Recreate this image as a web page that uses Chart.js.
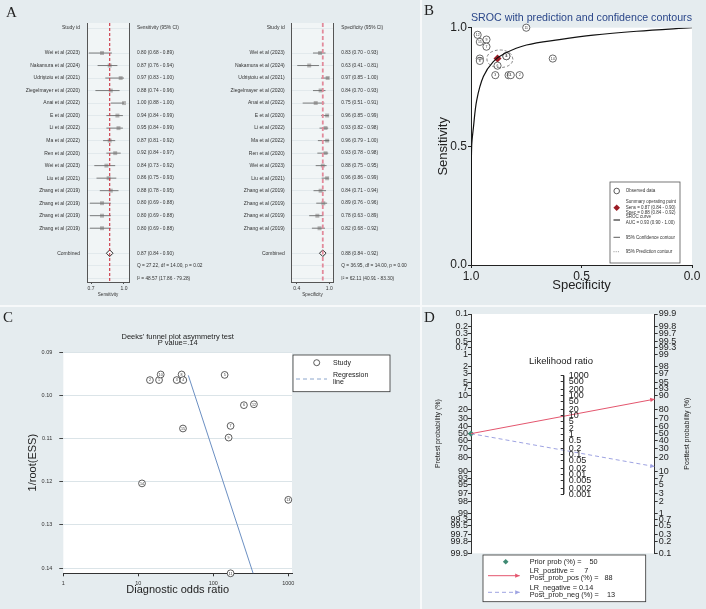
<!DOCTYPE html>
<html>
<head>
<meta charset="utf-8">
<script src="https://cdn.jsdelivr.net/npm/chart.js@4.4.1/dist/chart.umd.min.js"></script>
<style>
  html, body { margin:0; padding:0; background:#e5ecef; }
  #fig { position:relative; width:706px; height:609px; overflow:hidden; background:#e5ecef; }
  #fig canvas { position:absolute; }
  .sep { position:absolute; background:#f7f9fa; }
  .tag { position:absolute; font-family:'Liberation Serif','DejaVu Serif',serif; font-size:15px; line-height:15px; color:#222; }
</style>
</head>
<body>
<div id="fig">
  <div class="sep" style="left:0;top:305px;width:706px;height:1.5px"></div>
  <div class="sep" style="left:420px;top:0;width:1.5px;height:609px"></div>
  <canvas id="forestSens" width="420" height="305" style="left:0;top:0"></canvas>
  <canvas id="forestSpec" width="420" height="305" style="left:0;top:0"></canvas>
  <canvas id="sroc" width="285" height="305" style="left:421px;top:0"></canvas>
  <canvas id="deeks" width="420" height="303" style="left:0;top:306px"></canvas>
  <canvas id="fagan" width="285" height="303" style="left:421px;top:306px"></canvas>
  <canvas id="faganLR" width="285" height="303" style="left:421px;top:306px"></canvas>
  <div class="tag" style="left:6px;top:5px">A</div>
  <div class="tag" style="left:424px;top:3px">B</div>
  <div class="tag" style="left:3px;top:310px">C</div>
  <div class="tag" style="left:424px;top:310px">D</div>
</div>
<script>
// ---------- datos ----------
const studies = ['Wei et al (2023)', 'Nakamura et al (2024)', 'Udriştoiu et al (2021)', 'Ziegelmayer et al (2020)',
  'Anai et al (2022)', 'E et al (2020)', 'Li et al (2022)', 'Ma et al (2022)', 'Ren et al (2020)', 'Wei et al (2023)',
  'Liu et al (2021)', 'Zhang et al (2019)', 'Zhang et al (2019)', 'Zhang et al (2019)', 'Zhang et al (2019)'];
const sens   = [0.80, 0.87, 0.97, 0.88, 1.00, 0.94, 0.95, 0.87, 0.92, 0.84, 0.86, 0.88, 0.80, 0.80, 0.80];
const sensLo = [0.68, 0.76, 0.83, 0.74, 0.88, 0.84, 0.84, 0.81, 0.84, 0.73, 0.75, 0.78, 0.69, 0.69, 0.69];
const sensHi = [0.89, 0.94, 1.00, 0.96, 1.00, 0.99, 0.99, 0.92, 0.97, 0.92, 0.93, 0.95, 0.88, 0.88, 0.88];
const spec   = [0.83, 0.63, 0.97, 0.84, 0.75, 0.96, 0.93, 0.96, 0.93, 0.88, 0.96, 0.84, 0.89, 0.78, 0.82];
const specLo = [0.70, 0.41, 0.85, 0.70, 0.51, 0.85, 0.82, 0.79, 0.78, 0.75, 0.86, 0.71, 0.76, 0.63, 0.68];
const specHi = [0.93, 0.81, 1.00, 0.93, 0.91, 0.99, 0.98, 1.00, 0.98, 0.95, 0.99, 0.94, 0.96, 0.89, 0.92];
const sensPooled = [0.87, 0.84, 0.90];
const specPooled = [0.88, 0.84, 0.92];
const sensStats = ['Q = 27.22, df = 14.00, p = 0.02', 'I\u00b2 = 48.57 (17.86 - 79.28)'];
const specStats = ['Q = 36.95, df = 14.00, p = 0.00', 'I\u00b2 = 62.11 (40.91 - 83.30)'];

// SROC (B)
const srocLabels = [10, 14, 12, 5, 11, 15, 9, 13, 7, 6, 8, 4, 3, 2, 1];
const srocSpec = [1.0, 0.999, 0.997, 0.989, 0.974, 0.944, 0.899, 0.846, 0.749, 0.60, 0.447, 0.25, 0.0];
const srocSens = [0.0, 0.30, 0.50, 0.58, 0.695, 0.794, 0.857, 0.892, 0.927, 0.95, 0.969, 0.985, 1.0];
const ellSpec = [0.810, 0.818, 0.840, 0.868, 0.897, 0.920, 0.928, 0.921, 0.899, 0.870, 0.841, 0.818, 0.810];
const ellSens = [0.866, 0.887, 0.901, 0.906, 0.902, 0.889, 0.870, 0.850, 0.836, 0.832, 0.836, 0.849, 0.866];
const aucVals = [0.93, 0.90, 1.00];

// Deeks (C)
const dor        = [14.3, 18.9, 19.9, 32.5, 37.8, 39.8, 141.6, 256, 348, 170, 160, 39.4, 11.2, 1000, 170];
const invRootEss = [0.0965, 0.0965, 0.0952, 0.0965, 0.0952, 0.0965, 0.0953, 0.1023, 0.1021, 0.1071, 0.1098, 0.1077, 0.1204, 0.1242, 0.1412];
const deeksLabels = [2, 1, 10, 3, 8, 4, 5, 6, 12, 7, 9, 15, 14, 13, 11];
const regDor = [46.4, 341];
const regY   = [0.0954, 0.1413];
const deeksTicksX = [1, 10, 100, 1000];
const deeksTicksY = [0.09, 0.10, 0.11, 0.12, 0.13, 0.14];

// Fagan (D)
const preTicks  = [0.1, 0.2, 0.3, 0.5, 0.7, 1, 2, 3, 5, 7, 10, 20, 30, 40, 50, 60, 70, 80, 90, 93, 95, 97, 98, 99, 99.3, 99.5, 99.7, 99.8, 99.9];
const postTicks = [99.9, 99.8, 99.7, 99.5, 99.3, 99, 98, 97, 95, 93, 90, 80, 70, 60, 50, 40, 30, 20, 10, 7, 5, 3, 2, 1, 0.7, 0.5, 0.3, 0.2, 0.1];
const lrTicks   = [1000, 500, 200, 100, 50, 20, 10, 5, 2, 1, 0.5, 0.2, 0.1, 0.05, 0.02, 0.01, 0.005, 0.002, 0.001];
const priorProb = 50;
const lrPos = 7, postPos = 88;
const lrNeg = 0.14, postNeg = 13;

// ---------- comunes ----------
const FONT = "'Liberation Sans', Arial, Helvetica, sans-serif";
Chart.defaults.font.family = FONT;
Chart.defaults.color = '#222';
const ROW_MIN = -2.4, ROW_MAX = 18.3;
const logit = p => Math.log(p / (100 - p));
const U_LIM = 6.907;

const areaBg = { id: 'areaBg', beforeDraw(chart, args, o) {
  if (!o.color) return;
  const a = chart.chartArea, c = chart.ctx;
  c.save(); c.fillStyle = o.color; c.fillRect(a.left, a.top, a.right - a.left, a.bottom - a.top); c.restore();
}};

const numeros = { id: 'numeros', afterDatasetsDraw(chart) {
  const c = chart.ctx;
  chart.data.datasets.forEach((ds, di) => {
    if (!ds.nums) return;
    const meta = chart.getDatasetMeta(di);
    c.save(); c.font = ds.numFont; c.fillStyle = '#333'; c.textAlign = 'center'; c.textBaseline = 'middle';
    meta.data.forEach((p, i) => c.fillText(String(ds.nums[i]), p.x, p.y + 0.3));
    c.restore();
  });
}};

function punta(c, x, y, ang, len) {
  c.beginPath();
  c.moveTo(x - len * Math.cos(ang - 0.45), y - len * Math.sin(ang - 0.45));
  c.lineTo(x, y);
  c.lineTo(x - len * Math.cos(ang + 0.45), y - len * Math.sin(ang + 0.45));
  c.closePath(); c.fill();
}

const flechas = { id: 'flechas', afterDatasetsDraw(chart) {
  const c = chart.ctx;
  chart.data.datasets.forEach((ds, di) => {
    if (!ds.arrow) return;
    const pts = chart.getDatasetMeta(di).data;
    const a = pts[pts.length - 2], b = pts[pts.length - 1];
    c.save(); c.fillStyle = ds.borderColor;
    punta(c, b.x, b.y, Math.atan2(b.y - a.y, b.x - a.x), 5);
    c.restore();
  });
}};

function ciTexto(e, l, h) { return e.toFixed(2) + ' (' + l.toFixed(2) + ' - ' + h.toFixed(2) + ')'; }

// the axis boxes are wide so the tick texts are not clipped
grafico_forest('forestSens', sens, sensLo, sensHi, sensPooled, sensStats, {
  head: 'Sensitivity (95% CI)', xTitle: 'Sensitivity', xMin: 0.6636, xMax: 1.0455, xTicks: [0.7, 1.0],
  axL: 87, axR: 100, padR: 191, refColor: '#cc3341', refWidth: 1.1, refDash: [3, 2]
});
grafico_forest('forestSpec', spec, specLo, specHi, specPooled, specStats, {
  head: 'Specificity (95% CI)', xTitle: 'Specificity', xMin: 0.308, xMax: 1.0736, xTicks: [0.4, 1.0],
  axL: 291.7, axR: 86.7, padR: 0, refColor: '#e28a9b', refWidth: 1.8, refDash: [4, 2.5]
});
grafico_sroc();
grafico_deeks();
grafico_fagan();
grafico_lr();

function grafico_forest(id, est, lo, hi, pooled, stats, cfg) {
  const ctx = document.getElementById(id).getContext('2d');
  const rows = est.map((v, i) => i);
  const tickRows = [-2].concat(rows, [16, 17, 18]);
  const leftText = ['Study id'].concat(studies, ['Combined', '', '']);
  const rightText = [cfg.head].concat(est.map((v, i) => ciTexto(v, lo[i], hi[i])),
    [ciTexto(pooled[0], pooled[1], pooled[2])], stats);
  const ciLines = est.map((v, i) => ({
    type: 'line', data: [{x: lo[i], y: i}, {x: hi[i], y: i}],
    borderColor: '#5e5e5e', borderWidth: 0.8, pointRadius: 0
  }));
  const pts = est.map((v, i) => ({x: v, y: i}));
  new Chart(ctx, {
    type: 'scatter',
    data: {
      datasets: [
        {type: 'line', data: [{x: pooled[0], y: ROW_MIN}, {x: pooled[0], y: ROW_MAX}],
          borderColor: cfg.refColor, borderWidth: cfg.refWidth, borderDash: cfg.refDash, pointRadius: 0},
        ...ciLines,
        {data: pts, pointStyle: 'rect', pointRadius: 2.8, backgroundColor: '#b3b3b3', borderWidth: 0},
        {data: pts, pointStyle: 'rect', pointRadius: 1.6, backgroundColor: '#111', borderWidth: 0},
        {data: [{x: pooled[0], y: 16}], pointStyle: 'rectRot', pointRadius: 3.3,
          backgroundColor: '#fff', borderColor: '#111', borderWidth: 0.9}
      ]
    },
    options: {
      animation: false, responsive: false,
      layout: {autoPadding: false, padding: {left: 0, right: cfg.padR, top: 23, bottom: 3}},
      plugins: {legend: {display: false}, tooltip: {enabled: false}, areaBg: {color: '#f1f5f6'}},
      scales: {
        x: {
          type: 'linear', min: cfg.xMin, max: cfg.xMax,
          afterBuildTicks: s => { s.ticks = cfg.xTicks.map(v => ({value: v})); },
          afterFit: s => { s.height = 20; },
          ticks: {callback: v => v.toFixed(1), font: {size: 5}, color: '#333', padding: 2, maxRotation: 0, autoSkip: false},
          grid: {drawOnChartArea: false, tickLength: 2, color: '#555'},
          border: {color: '#555', width: 1},
          title: {display: true, text: cfg.xTitle, font: {size: 4.5}, color: '#333', padding: {top: 0, bottom: 4.3}}
        },
        y: {
          type: 'linear', position: 'left', reverse: true, min: ROW_MIN, max: ROW_MAX,
          afterBuildTicks: s => { s.ticks = tickRows.map(v => ({value: v})); },
          afterFit: s => { s.width = cfg.axL; },
          ticks: {autoSkip: false, callback: (v, i) => leftText[i], font: {size: 5}, color: '#333', padding: 7},
          grid: {color: '#e2e9ec', drawTicks: false},
          border: {color: '#555', width: 1}
        },
        y2: {
          type: 'linear', position: 'right', reverse: true, min: ROW_MIN, max: ROW_MAX,
          afterBuildTicks: s => { s.ticks = tickRows.map(v => ({value: v})); },
          afterFit: s => { s.width = cfg.axR; },
          ticks: {autoSkip: false, callback: (v, i) => rightText[i], font: {size: 4.8}, color: '#333', padding: 8},
          grid: {display: false, drawTicks: false},
          border: {color: '#555', width: 1}
        }
      }
    },
    plugins: [areaBg]
  });
}

function grafico_sroc() {
  const ctx = document.getElementById('sroc').getContext('2d');
  const srocLegend = { id: 'srocLegend', afterDraw(chart) {
    const c = chart.ctx;
    c.save();
    c.fillStyle = '#fff'; c.strokeStyle = '#555'; c.lineWidth = 0.8;
    c.fillRect(189, 182, 70, 81); c.strokeRect(189, 182, 70, 81);
    c.font = '4.5px ' + FONT; c.textBaseline = 'middle'; c.textAlign = 'left';
    c.beginPath(); c.arc(195.7, 191, 2.8, 0, Math.PI * 2); c.strokeStyle = '#333'; c.stroke();
    c.fillStyle = '#333';
    c.fillText('Observed data', 204.7, 191);
    c.fillStyle = '#9b1c25';
    c.beginPath(); c.moveTo(195.7, 204.4); c.lineTo(199, 207.7); c.lineTo(195.7, 211); c.lineTo(192.4, 207.7); c.closePath(); c.fill();
    c.fillStyle = '#333';
    c.fillText('Summary operating point', 204.7, 201.7);
    c.fillText('Sens = ' + ciTexto(sensPooled[0], sensPooled[1], sensPooled[2]), 204.7, 207.3);
    c.fillText('Spec = ' + ciTexto(specPooled[0], specPooled[1], specPooled[2]), 204.7, 212.7);
    c.lineWidth = 1.2; c.strokeStyle = '#333';
    c.beginPath(); c.moveTo(192.5, 220); c.lineTo(199, 220); c.stroke();
    c.fillText('SROC curve', 204.7, 217);
    c.fillText('AUC = ' + ciTexto(aucVals[0], aucVals[1], aucVals[2]), 204.7, 222.6);
    c.lineWidth = 0.8;
    c.beginPath(); c.moveTo(192.5, 237.3); c.lineTo(199, 237.3); c.stroke();
    c.fillText('95% Confidence contour', 204.7, 237.3);
    c.setLineDash([1, 1.2]); c.strokeStyle = '#777';
    c.beginPath(); c.moveTo(192.5, 251.7); c.lineTo(199, 251.7); c.stroke();
    c.fillText('95% Prediction contour', 204.7, 251.7);
    c.restore();
  }};
  new Chart(ctx, {
    type: 'scatter',
    data: {
      datasets: [
        {type: 'line', data: srocSpec.map((x, i) => ({x: x, y: srocSens[i]})),
          borderColor: '#111', borderWidth: 1.2, pointRadius: 0, tension: 0.35},
        {type: 'line', data: ellSpec.map((x, i) => ({x: x, y: ellSens[i]})),
          borderColor: '#6a6a6a', borderWidth: 0.8, borderDash: [3, 2], pointRadius: 0, tension: 0.4},
        {data: spec.map((x, i) => ({x: x, y: sens[i]})), pointStyle: 'circle', pointRadius: 3.6,
          backgroundColor: '#fff', borderColor: '#444', borderWidth: 0.8, clip: false,
          nums: srocLabels, numFont: '3.5px ' + FONT},
        {data: [{x: specPooled[0], y: sensPooled[0]}], pointStyle: 'rectRot', pointRadius: 4,
          backgroundColor: '#9b1c25', borderWidth: 0}
      ]
    },
    options: {
      animation: false, responsive: false,
      layout: {autoPadding: false, padding: {left: 0, right: 14, top: 0, bottom: 0}},
      plugins: {
        legend: {display: false}, tooltip: {enabled: false}, areaBg: {color: '#fff'},
        title: {display: true, fullSize: false, text: 'SROC with prediction and confidence contours',
          color: '#2a4689', font: {size: 11.5, weight: 'normal'}, padding: {top: 11.1, bottom: 2.8}}
      },
      scales: {
        x: {
          type: 'linear', reverse: true, min: 0, max: 1,
          afterBuildTicks: s => { s.ticks = [1, 0.5, 0].map(v => ({value: v})); },
          afterFit: s => { s.height = 40; },
          ticks: {callback: v => v.toFixed(1), font: {size: 12}, color: '#222', padding: 1, maxRotation: 0, autoSkip: false},
          grid: {drawOnChartArea: false, tickLength: 3, color: '#222'},
          border: {color: '#222', width: 1},
          title: {display: true, text: 'Specificity', font: {size: 13}, color: '#222', padding: {top: 0, bottom: 12.2}}
        },
        y: {
          type: 'linear', min: 0, max: 1,
          afterBuildTicks: s => { s.ticks = [0, 0.5, 1].map(v => ({value: v})); },
          afterFit: s => { s.width = 50; },
          ticks: {callback: v => v.toFixed(1), font: {size: 12}, color: '#222', padding: 1, autoSkip: false},
          grid: {drawOnChartArea: false, tickLength: 3, color: '#222'},
          border: {color: '#222', width: 1},
          title: {display: true, text: 'Sensitivity', font: {size: 13}, color: '#222', padding: {top: 14.2, bottom: 0}}
        }
      }
    },
    plugins: [areaBg, numeros, srocLegend]
  });
}

function grafico_deeks() {
  const ctx = document.getElementById('deeks').getContext('2d');
  const deeksLegend = { id: 'deeksLegend', afterDraw(chart) {
    const c = chart.ctx;
    c.save();
    c.fillStyle = '#fff'; c.strokeStyle = '#333'; c.lineWidth = 0.8;
    c.fillRect(293, 49, 97, 36.7); c.strokeRect(293, 49, 97, 36.7);
    c.beginPath(); c.arc(316.7, 56.7, 3, 0, Math.PI * 2); c.stroke();
    c.font = '7px ' + FONT; c.fillStyle = '#222'; c.textBaseline = 'middle'; c.textAlign = 'left';
    c.fillText('Study', 333, 56.7);
    c.fillText('Regression', 333, 69.5);
    c.fillText('line', 333, 76);
    c.strokeStyle = '#7f9cc6'; c.lineWidth = 0.9; c.setLineDash([4, 3]);
    c.beginPath(); c.moveTo(296, 73); c.lineTo(327, 73); c.stroke();
    c.restore();
  }};
  new Chart(ctx, {
    type: 'scatter',
    data: {
      datasets: [
        {type: 'line', data: regDor.map((x, i) => ({x: x, y: regY[i]})),
          borderColor: '#6b8fc2', borderWidth: 1, pointRadius: 0},
        {data: dor.map((x, i) => ({x: x, y: invRootEss[i]})), pointRadius: 3.4,
          backgroundColor: '#fff', borderColor: '#333', borderWidth: 0.8, clip: false,
          nums: deeksLabels, numFont: '3.6px ' + FONT}
      ]
    },
    options: {
      animation: false, responsive: false,
      layout: {autoPadding: false, padding: {left: 0, right: 420 - 292, top: 0, bottom: 0}},
      plugins: {
        legend: {display: false}, tooltip: {enabled: false}, areaBg: {color: '#fff'},
        title: {display: true, fullSize: false, text: ["Deeks' funnel plot asymmetry test", 'P value=.14'],
          color: '#222', font: {size: 7.5, weight: 'normal', lineHeight: 0.8}, padding: {top: 28, bottom: 6}}
      },
      scales: {
        x: {
          type: 'logarithmic', min: 1, max: 1120,
          afterBuildTicks: s => { s.ticks = deeksTicksX.map(v => ({value: v})); },
          afterFit: s => { s.height = 35.7; },
          ticks: {callback: v => String(v), font: {size: 5.5}, color: '#333', padding: 4, maxRotation: 0, autoSkip: false},
          grid: {drawOnChartArea: false, tickLength: 3, color: '#333'},
          border: {color: '#333', width: 1},
          title: {display: true, text: 'Diagnostic odds ratio', font: {size: 11}, color: '#222', padding: {top: 0, bottom: 12.4}}
        },
        y: {
          type: 'linear', reverse: true, min: 0.09, max: 0.1412,
          afterBuildTicks: s => { s.ticks = deeksTicksY.map(v => ({value: v})); },
          afterFit: s => { s.width = 63.3; },
          ticks: {callback: v => v.toFixed(2), font: {size: 5.5}, color: '#333', padding: 7, autoSkip: false},
          grid: {color: '#dbe4e8', tickLength: 4, tickColor: '#444'},
          border: {display: false},
          title: {display: true, text: '1/root(ESS)', font: {size: 11}, color: '#222', padding: {top: 26.4, bottom: 0}}
        }
      }
    },
    plugins: [areaBg, numeros, deeksLegend]
  });
}

function grafico_fagan() {
  const ctx = document.getElementById('fagan').getContext('2d');
  const prior = -logit(priorProb);
  const faganLegend = { id: 'faganLegend', afterDraw(chart) {
    const c = chart.ctx;
    c.save();
    c.fillStyle = '#fff'; c.strokeStyle = '#333'; c.lineWidth = 0.8;
    c.fillRect(62, 249, 162.7, 46.7); c.strokeRect(62, 249, 162.7, 46.7);
    c.fillStyle = '#3f8a73';
    c.beginPath(); c.moveTo(84.7, 252.9); c.lineTo(87.5, 255.7); c.lineTo(84.7, 258.5); c.lineTo(81.9, 255.7); c.closePath(); c.fill();
    c.font = '7.3px ' + FONT; c.fillStyle = '#222'; c.textBaseline = 'middle'; c.textAlign = 'left';
    c.fillText('Prior prob (%) =    ' + priorProb, 108.7, 255.7);
    c.fillText('LR_positive =     ' + lrPos, 108.7, 265.4);
    c.fillText('Post_prob_pos (%) =   ' + postPos, 108.7, 271.8);
    c.fillText('LR_negative = ' + lrNeg, 108.7, 282.1);
    c.fillText('Post_prob_neg (%) =    ' + postNeg, 108.7, 288.8);
    c.strokeStyle = '#e4566e'; c.fillStyle = '#e4566e'; c.lineWidth = 1;
    c.beginPath(); c.moveTo(67, 269.7); c.lineTo(98.7, 269.7); c.stroke();
    punta(c, 98.7, 269.7, 0, 5);
    c.strokeStyle = '#9ea3e2'; c.fillStyle = '#9ea3e2'; c.setLineDash([4, 3]);
    c.beginPath(); c.moveTo(67, 286.3); c.lineTo(98.7, 286.3); c.stroke();
    c.setLineDash([]);
    punta(c, 98.7, 286.3, 0, 5);
    // right axis title, same rotation as the left one
    const a = chart.chartArea;
    c.translate(266, (a.top + a.bottom) / 2); c.rotate(-Math.PI / 2);
    c.font = '7px ' + FONT; c.fillStyle = '#222'; c.textAlign = 'center';
    c.fillText('Posttest probability (%)', 0, 0);
    c.restore();
  }};
  new Chart(ctx, {
    type: 'scatter',
    data: {
      datasets: [
        {type: 'line', data: [{x: 0, y: prior}, {x: 1, y: logit(postPos)}],
          borderColor: '#e4566e', borderWidth: 1, pointRadius: 0, arrow: true, clip: false},
        {type: 'line', data: [{x: 0, y: prior}, {x: 1, y: logit(postNeg)}],
          borderColor: '#9ea3e2', borderWidth: 1, borderDash: [4, 3], pointRadius: 0, arrow: true, clip: false},
        {data: [{x: 0, y: prior}], pointStyle: 'rectRot', pointRadius: 3.2,
          backgroundColor: '#3f8a73', borderWidth: 0, clip: false}
      ]
    },
    options: {
      animation: false, responsive: false,
      layout: {autoPadding: false, padding: {left: 0, right: 0, top: 8, bottom: 55.7}},
      plugins: {legend: {display: false}, tooltip: {enabled: false}, areaBg: {color: '#fff'}},
      scales: {
        x: {type: 'linear', display: false, min: 0, max: 1},
        y: {
          type: 'linear', position: 'left', min: -U_LIM, max: U_LIM,
          afterBuildTicks: s => { s.ticks = preTicks.map(p => ({value: -logit(p)})); },
          afterFit: s => { s.width = 50; },
          ticks: {autoSkip: false, callback: (v, i) => String(preTicks[i]), font: {size: 9}, color: '#222', padding: 0},
          grid: {drawOnChartArea: false, tickLength: 3, color: '#333'},
          border: {color: '#333', width: 1},
          title: {display: true, text: 'Pretest probability (%)', font: {size: 7}, color: '#222', padding: {top: 12.8, bottom: 0}}
        },
        y2: {
          type: 'linear', position: 'right', min: -U_LIM, max: U_LIM,
          afterBuildTicks: s => { s.ticks = postTicks.map(p => ({value: logit(p)})); },
          afterFit: s => { s.width = 51.3; },
          ticks: {autoSkip: false, callback: (v, i) => String(postTicks[i]), font: {size: 9}, color: '#222', padding: 1},
          grid: {drawOnChartArea: false, tickLength: 3, color: '#333'},
          border: {color: '#333', width: 1}
        }
      }
    },
    plugins: [areaBg, flechas, faganLegend]
  });
}

function grafico_lr() {
  const ctx = document.getElementById('faganLR').getContext('2d');
  const rotulo = { id: 'rotulo', afterDraw(chart) {
    const c = chart.ctx;
    c.save(); c.font = '9.5px ' + FONT; c.fillStyle = '#222'; c.textAlign = 'center'; c.textBaseline = 'middle';
    c.fillText('Likelihood ratio', 140, 55); c.restore();
  }};
  const top = lrTicks[0], bot = lrTicks[lrTicks.length - 1];
  new Chart(ctx, {
    type: 'scatter',
    data: {
      datasets: [
        {type: 'line', data: [{x: 0, y: Math.log(top)}, {x: 0, y: Math.log(bot)}],
          borderColor: '#333', borderWidth: 1, pointRadius: 0, clip: false}
      ]
    },
    options: {
      animation: false, responsive: false,
      layout: {autoPadding: false, padding: {left: 140, right: 0, top: 8, bottom: 55.7}},
      plugins: {legend: {display: false}, tooltip: {enabled: false}},
      scales: {
        x: {type: 'linear', display: false, min: 0, max: 1},
        y: {
          type: 'linear', position: 'left', min: -2 * U_LIM, max: 2 * U_LIM,
          afterBuildTicks: s => { s.ticks = lrTicks.map(v => ({value: Math.log(v)})); },
          afterFit: s => { s.width = 2.7; },
          ticks: {autoSkip: false, mirror: true, callback: (v, i) => String(lrTicks[i]), font: {size: 9}, color: '#222', padding: 5},
          grid: {drawOnChartArea: false, tickLength: 3, color: '#333'},
          border: {display: false}
        }
      }
    },
    plugins: [rotulo]
  });
}
</script>
</body>
</html>
